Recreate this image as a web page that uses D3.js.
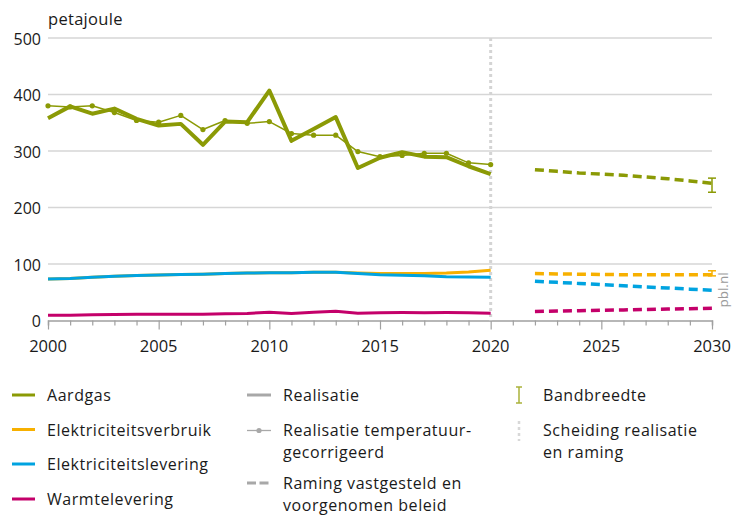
<!DOCTYPE html>
<html>
<head>
<meta charset="utf-8">
<script src="https://cdn.jsdelivr.net/npm/d3@7"></script>
<style>
  html, body { margin: 0; padding: 0; background: #fff; }
  svg { display: block; }
  text { font-family: "Open Sans", "Noto Sans", sans-serif; fill: #1a1a1a; }
</style>
</head>
<body>
<svg id="chart" width="733" height="515"></svg>
<script>
// Energy use in petajoule: realisation 2000-2020, projection 2022-2030
const years = d3.range(2000, 2021);
const gas = [358, 379, 366, 375, 357, 345, 348, 311, 352, 351, 407, 318, 339, 360, 270, 288, 298, 290, 289, 273, 259];
const gasTempCorrected = [380, 378, 380, 368, 354, 351, 363, 338, 354, 349, 352, 331, 328, 328, 299, 290, 292, 296, 296, 279, 276];
const elecUse = [73.6, 74.5, 76.5, 78.5, 79.5, 80.5, 81.5, 82, 83, 84, 84.5, 84.5, 85.5, 85.5, 84, 83, 83, 83, 84, 86, 89];
const elecSupply = [73.6, 74.5, 76.5, 78.5, 79.5, 80.5, 81.5, 82, 83, 84, 84.5, 84.5, 85.5, 85.5, 83, 81, 80, 79, 77.5, 77, 76.5];
const heat = [9.2, 9.5, 10, 10.5, 11, 11, 11, 11, 12, 12.5, 14.5, 12.5, 14.5, 16.5, 12.8, 13.5, 14, 13.8, 14, 13.5, 12.8];

const projYears = d3.range(2022, 2031);
const gasProj = [267, 264, 261, 259, 257, 254, 251, 247, 243];
const elecUseProj = [83, 82.5, 82, 81.5, 81, 81, 81, 81, 81];
const elecSupplyProj = [69.5, 67.5, 65.5, 63.5, 61.5, 59.5, 57.5, 55.5, 53.5];
const heatProj = [16, 16.7, 17.4, 18.1, 18.8, 19.5, 20.2, 20.9, 21.6];

// Bandwidth of the 2030 projection [low, high]
const gasRange2030 = [227, 252];
const elecUseRange2030 = [79, 88];

const yTicks = [0, 100, 200, 300, 400, 500];
const xTicks = [2000, 2005, 2010, 2015, 2020, 2025, 2030];
const separatorYear = 2020;

const colors = {
  gas: "#8b9a05",
  elecUse: "#f7b000",
  elecSupply: "#00a3e0",
  heat: "#c4006a",
  grey: "#a8a8a8"
};

const svg = d3.select("#chart");
const x = d3.scaleLinear().domain([2000, 2030]).range([48, 712]);
const y = d3.scaleLinear().domain([0, 500]).range([320.5, 38]);

// Gridlines
svg.append("g")
  .selectAll("line")
  .data(yTicks.filter(d => d > 0))
  .join("line")
  .attr("x1", x(2000)).attr("x2", x(2030))
  .attr("y1", d => y(d)).attr("y2", d => y(d))
  .attr("stroke", "#d6d6d6").attr("stroke-width", 1.5);

// Y tick labels
svg.append("g")
  .selectAll("text")
  .data(yTicks)
  .join("text")
  .attr("x", 41).attr("y", d => y(d) + 6.5)
  .attr("text-anchor", "end")
  .attr("font-size", 16)
  .text(d => d);

svg.append("text")
  .attr("x", 48).attr("y", 25)
  .attr("font-size", 16.5)
  .attr("letter-spacing", 0.3)
  .text("petajoule");

// X axis with yearly minor ticks
const xAxis = d3.axisBottom(x)
  .tickValues(d3.range(2000, 2031))
  .tickSize(5)
  .tickFormat("");
const gx = svg.append("g")
  .attr("transform", `translate(0,${y(0)})`)
  .call(xAxis);
gx.select(".domain").attr("stroke", "#a0a0a0").attr("stroke-width", 1.5);
gx.selectAll(".tick line").attr("stroke", "#a0a0a0").attr("stroke-width", 1.2)
  .attr("y2", d => (d % 5 === 0 ? 9 : 5));

svg.append("g")
  .selectAll("text")
  .data(xTicks)
  .join("text")
  .attr("x", d => x(d)).attr("y", 352)
  .attr("text-anchor", "middle")
  .attr("font-size", 16.5)
  .text(d => d);

// Separator between realisation and projection
svg.append("line")
  .attr("x1", x(separatorYear)).attr("x2", x(separatorYear))
  .attr("y1", y(500)).attr("y2", y(0))
  .attr("stroke", "#d4d4d4").attr("stroke-width", 3)
  .attr("stroke-dasharray", "3,3");

const line = (xs, ys) => d3.line().x((d, i) => x(xs[i])).y(d => y(d))(ys);

// Realisation lines
function histLine(vals, color, width) {
  svg.append("path")
    .attr("d", line(years, vals))
    .attr("fill", "none")
    .attr("stroke", color)
    .attr("stroke-width", width)
    .attr("stroke-linejoin", "round");
}
histLine(heat, colors.heat, 3);
histLine(elecUse, colors.elecUse, 3);
histLine(elecSupply, colors.elecSupply, 3);

// Temperature corrected gas, thin line with dots
histLine(gasTempCorrected, colors.gas, 1.5);
svg.append("g")
  .selectAll("circle")
  .data(gasTempCorrected)
  .join("circle")
  .attr("cx", (d, i) => x(years[i]))
  .attr("cy", d => y(d))
  .attr("r", 2.6)
  .attr("fill", colors.gas);
histLine(gas, colors.gas, 4);

// Projection lines
function projLine(vals, color) {
  svg.append("path")
    .attr("d", line(projYears, vals))
    .attr("fill", "none")
    .attr("stroke", color)
    .attr("stroke-width", 3.5)
    .attr("stroke-dasharray", "9,5");
}
projLine(gasProj, colors.gas);
projLine(elecUseProj, colors.elecUse);
projLine(elecSupplyProj, colors.elecSupply);
projLine(heatProj, colors.heat);

// Bandwidth bars
function errorBar(range, color) {
  const g = svg.append("g").attr("stroke", color).attr("stroke-width", 1.5);
  const cx = x(2030);
  g.append("line").attr("x1", cx).attr("x2", cx).attr("y1", y(range[0])).attr("y2", y(range[1]));
  g.append("line").attr("x1", cx - 4).attr("x2", cx + 4).attr("y1", y(range[0])).attr("y2", y(range[0]));
  g.append("line").attr("x1", cx - 4).attr("x2", cx + 4).attr("y1", y(range[1])).attr("y2", y(range[1]));
}
errorBar(gasRange2030, colors.gas);
errorBar(elecUseRange2030, colors.elecUse);

// Source mark
svg.append("text")
  .attr("transform", "translate(728,290) rotate(-90)")
  .attr("text-anchor", "middle")
  .attr("font-size", 13.5)
  .style("fill", "#9a9a9a")
  .text("pbl.nl");

// Legend
const seriesLegend = [
  { label: "Aardgas", color: colors.gas },
  { label: "Elektriciteitsverbruik", color: colors.elecUse },
  { label: "Elektriciteitslevering", color: colors.elecSupply },
  { label: "Warmtelevering", color: colors.heat }
];
const legendRows = [401, 435.5, 470, 505];
const lg = svg.append("g").attr("font-size", 16).attr("letter-spacing", 0.55);

seriesLegend.forEach((s, i) => {
  lg.append("line")
    .attr("x1", 12).attr("x2", 35)
    .attr("y1", legendRows[i] - 6).attr("y2", legendRows[i] - 6)
    .attr("stroke", s.color).attr("stroke-width", 3);
  lg.append("text").attr("x", 47).attr("y", legendRows[i]).text(s.label);
});

// Line style legend
const c2 = 283, s2 = 247;
lg.append("line").attr("x1", s2).attr("x2", s2 + 24).attr("y1", 395).attr("y2", 395)
  .attr("stroke", colors.grey).attr("stroke-width", 3);
lg.append("text").attr("x", c2).attr("y", 401).text("Realisatie");

lg.append("line").attr("x1", s2).attr("x2", s2 + 24).attr("y1", 430.5).attr("y2", 430.5)
  .attr("stroke", colors.grey).attr("stroke-width", 1.3);
lg.append("circle").attr("cx", s2 + 12).attr("cy", 430.5).attr("r", 2.6).attr("fill", colors.grey);
lg.append("text").attr("x", c2).attr("y", 435.5).text("Realisatie temperatuur-");
lg.append("text").attr("x", c2).attr("y", 458).text("gecorrigeerd");

lg.append("line").attr("x1", s2).attr("x2", s2 + 24).attr("y1", 483).attr("y2", 483)
  .attr("stroke", colors.grey).attr("stroke-width", 3).attr("stroke-dasharray", "9,3.5");
lg.append("text").attr("x", c2).attr("y", 488.5).text("Raming vastgesteld en");
lg.append("text").attr("x", c2).attr("y", 511).text("voorgenomen beleid");

const c3 = 543, s3 = 519;
const bb = lg.append("g").attr("stroke", "#aab23a").attr("stroke-width", 1.5);
bb.append("line").attr("x1", s3).attr("x2", s3).attr("y1", 387).attr("y2", 403);
bb.append("line").attr("x1", s3 - 3).attr("x2", s3 + 3).attr("y1", 387).attr("y2", 387);
bb.append("line").attr("x1", s3 - 3).attr("x2", s3 + 3).attr("y1", 403).attr("y2", 403);
lg.append("text").attr("x", c3).attr("y", 401).text("Bandbreedte");

lg.append("line").attr("x1", s3).attr("x2", s3).attr("y1", 421).attr("y2", 441)
  .attr("stroke", "#d8d8d8").attr("stroke-width", 2.5).attr("stroke-dasharray", "3,3");
lg.append("text").attr("x", c3).attr("y", 435.5).text("Scheiding realisatie");
lg.append("text").attr("x", c3).attr("y", 458).text("en raming");
</script>
</body>
</html>
